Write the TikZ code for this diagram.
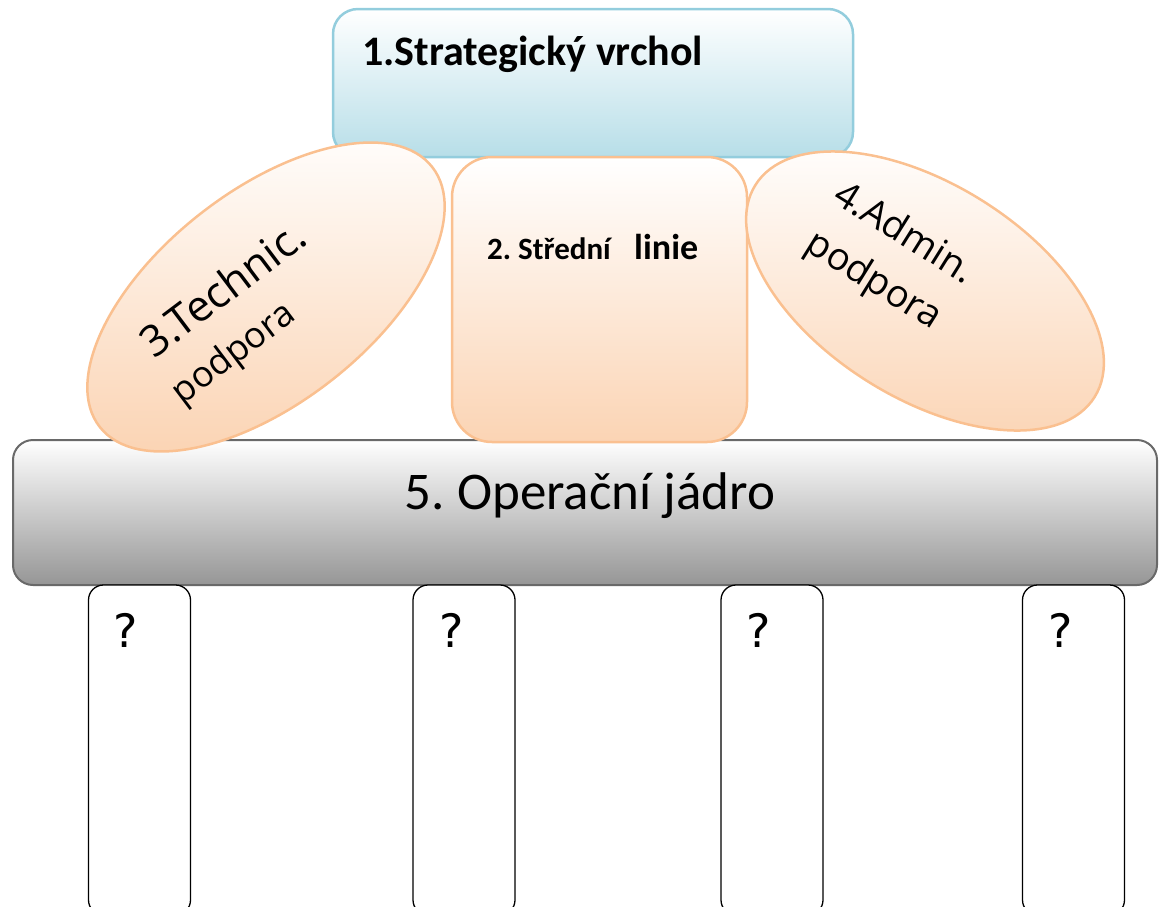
\documentclass[tikz,border=0pt]{standalone}
\usepackage{fontspec}
\usetikzlibrary{
    shapes.geometric,
    positioning
}
\newfontfamily\carlito{Carlito}
\newfontfamily\dejavu{DejaVu Sans}
\newfontfamily\opensans{Open Sans}
\definecolor{apexblue}{RGB}{183, 222, 232}
\definecolor{apexline}{RGB}{147, 205, 221}
\definecolor{wingorange}{RGB}{251, 212, 180}
\definecolor{wingline}{RGB}{250, 192, 144}
\definecolor{coregray}{RGB}{150, 150, 150}
\definecolor{coreline}{RGB}{105, 105, 105}
\frenchspacing

\begin{document}
\begin{tikzpicture}[
        x=1pt, y=-1pt,
        apex/.style={rectangle, draw=apexline, line width=2.5pt, rounded corners=25pt, top color=white, bottom color=apexblue, inner sep=0pt},
        wing/.style={ellipse, draw=wingline, line width=2.5pt, top color=white, bottom color=wingorange, inner sep=0pt},
        middle/.style={rectangle, draw=wingline, line width=2.5pt, rounded corners=40pt, top color=white, bottom color=wingorange, inner sep=0pt},
        core/.style={rectangle, draw=coreline, line width=2pt, rounded corners=20pt, top color=white, bottom color=coregray, inner sep=0pt},
        leg/.style={rectangle, draw=black, line width=1.3pt, rounded corners=15pt, fill=white, inner sep=0pt, minimum width=102pt, minimum height=330pt},
        qmark/.style={anchor=base, inner sep=0pt, font=\dejavu\fontsize{46}{50}\selectfont}
    ]
        \path[use as bounding box, clip] (0,0) rectangle (1159,906);

        % Top: strategic apex
        \node[apex, minimum width=520pt, minimum height=148pt] (apex) at (593,83) {};
        \node[anchor=base west, inner sep=0pt, font=\carlito\bfseries\fontsize{42}{46}\selectfont] (apextext) at (362,65) {1.Strategický vrchol};

        % Operating core
        \node[core, minimum width=1144pt, minimum height=145pt] (core) at (585,512.5) {};
        \node[anchor=base, inner sep=0pt, font=\carlito\fontsize{53}{58}\selectfont] (coretext) at (590,509) {5. Operační jádro};

        % Middle row: support staff and middle line
        \node[wing, minimum width=422pt, minimum height=212pt, rotate=38] (techno) at (266,297) {};
        \node[middle, minimum width=295pt, minimum height=285pt] (midline) at (599.5,299.5) {};
        \node[wing, minimum width=400pt, minimum height=214pt, rotate=-32] (admin) at (925,291) {};

        \node[anchor=base, rotate=37, inner sep=0pt, font=\opensans\fontsize{43}{48}\selectfont] (technotext) at (232,301) {3.Technic.};
        \node[anchor=base, rotate=37, inner sep=0pt, font=\opensans\fontsize{36}{40}\selectfont] (technosub) at (240,362) {podpora};
        \node[anchor=base west, inner sep=0pt, font=\carlito\bfseries\fontsize{31}{36}\selectfont] (midtext) at (487,259) {2. Střední};
        \node[anchor=base west, inner sep=0pt, font=\carlito\bfseries\fontsize{36}{40}\selectfont] (midsub) at (634,259) {linie};
        \node[anchor=base, rotate=-32, inner sep=0pt, font=\opensans\fontsize{38}{42}\selectfont] (admintext) at (898,243) {4.Admin.};
        \node[anchor=base, rotate=-32, inner sep=0pt, font=\opensans\fontsize{38}{42}\selectfont] (adminsub) at (868,290) {podpora};

        % Bottom: units of the core
        \node[leg] (leg1) at (139.5,750) {};
        \node[leg] (leg2) at (464,750) {};
        \node[leg] (leg3) at (772,750) {};
        \node[leg] (leg4) at (1073.5,750) {};

        \node[qmark] (q1) at (126,647) {?};
        \node[qmark] (q2) at (452,647) {?};
        \node[qmark] (q3) at (759,647) {?};
        \node[qmark] (q4) at (1061,647) {?};
    \end{tikzpicture}
\end{document}
